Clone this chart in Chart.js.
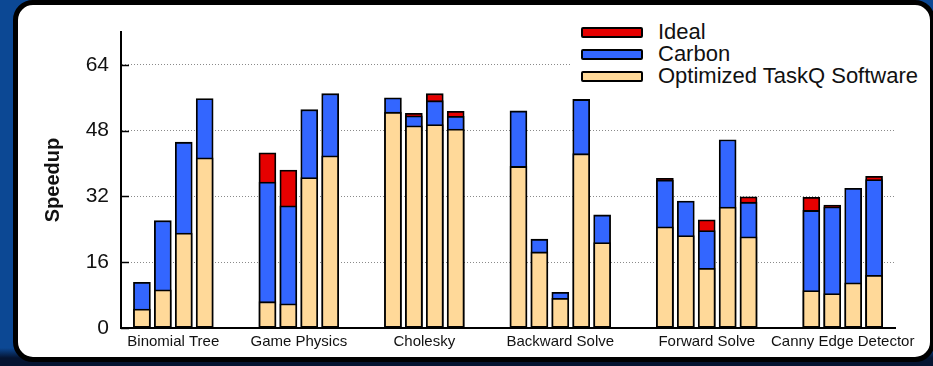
<!DOCTYPE html>
<html>
<head>
<meta charset="utf-8">
<script src="https://cdn.jsdelivr.net/npm/chart.js@4.4.1/dist/chart.umd.min.js"></script>
<style>
  html, body { margin: 0; padding: 0; }
  body {
    width: 933px;
    height: 366px;
    overflow: hidden;
    position: relative;
    background: linear-gradient(to bottom, #0c4894 0, #0c4894 348px, #051431 358px);
    font-family: "Liberation Sans", Arial, sans-serif;
  }
  #panel {
    position: absolute;
    left: 13px;
    top: 0;
    width: 922px;
    height: 362px;
    box-sizing: border-box;
    border: 5px solid #000;
    border-radius: 20px;
    background: #fff;
  }
  #speedup-chart { position: absolute; left: 0; top: 0; }
  #legend {
    position: absolute;
    left: 571px;
    top: 19px;
    background: #fff;
    padding: 2px 4px 2px 10px;
  }
  #legend .item {
    display: flex;
    align-items: center;
    height: 22px;
    font-size: 22px;
    color: #111;
    white-space: nowrap;
  }
  #legend .swatch {
    width: 58px;
    height: 7px;
    border: 2px solid #000;
    border-radius: 2px;
    margin-right: 15px;
  }
</style>
</head>
<body>
<div id="panel"></div>
<canvas id="speedup-chart" width="933" height="366"></canvas>
<div id="legend"></div>

<script>
    'use strict';

    // Benchmarks and how many core counts each one was run at
    var groups = ['Binomial Tree', 'Game Physics', 'Cholesky', 'Backward Solve', 'Forward Solve', 'Canny Edge Detector'];
    var barsPerGroup = [4, 4, 4, 5, 5, 4];
    var yTicks = [0, 16, 32, 48, 64];

    // Speedup per bar, left to right
    var software = [4.6, 9.3, 23.1, 41.4,
                    6.4, 5.9, 36.6, 41.9,
                    52.5, 49.2, 49.5, 48.4,
                    39.3, 18.5, 7.2, 42.4, 20.8,
                    24.6, 22.5, 14.5, 29.4, 22.2,
                    9.1, 8.4, 11.0, 12.8];
    var carbon = [11.1, 26.1, 45.2, 55.8,
                  35.5, 29.7, 53.1, 57.0,
                  56.0, 51.6, 55.3, 51.5,
                  52.8, 21.6, 8.7, 55.6, 27.5,
                  36.0, 30.9, 23.7, 45.8, 30.6,
                  28.6, 29.5, 34.0, 36.1];
    var ideal = [null, null, null, null,
                 42.6, 38.4, null, null,
                 null, 52.2, 57.0, 52.7,
                 null, null, null, null, null,
                 36.4, null, 26.3, null, 31.9,
                 31.8, 29.9, null, 36.9];

    // Bar slots along x, with two empty slots between benchmarks
    var GAP = 2;
    var slots = [];
    var centers = [];
    var pos = 0;
    barsPerGroup.forEach(function(n) {
        centers.push(pos + (n - 1) / 2);
        for (var i = 0; i < n; i++) slots.push(pos + i);
        pos += n + GAP;
    });
    var lastSlot = slots[slots.length - 1];

    function toPoints(values) {
        return values.map(function(v, i) { return { x: slots[i], y: v }; });
    }

    var font = '"Liberation Sans", Arial, sans-serif';

    // Short tick marks pointing into the plot on the y axis
    var innerTicks = {
        id: 'innerTicks',
        afterDatasetsDraw: function(chart) {
            var ctx = chart.ctx;
            var y = chart.scales.y;
            var left = chart.chartArea.left;
            ctx.save();
            ctx.strokeStyle = '#000';
            ctx.lineWidth = 1.5;
            yTicks.forEach(function(v) {
                var py = Math.round(y.getPixelForValue(v)) + 0.5;
                ctx.beginPath();
                ctx.moveTo(left, py);
                ctx.lineTo(left + 8, py);
                ctx.stroke();
            });
            ctx.restore();
        }
    };

    var bar = {
        borderColor: '#000',
        borderWidth: 1.8,
        borderSkipped: false,
        barThickness: 17
    };

    var chart = new Chart(document.getElementById('speedup-chart'), {
        type: 'bar',
        data: {
            datasets: [
                Object.assign({ label: 'Ideal', data: toPoints(ideal), backgroundColor: '#e60000', order: 3 }, bar),
                Object.assign({ label: 'Carbon', data: toPoints(carbon), backgroundColor: '#3366ff', order: 2 }, bar),
                Object.assign({ label: 'Optimized TaskQ Software', data: toPoints(software), backgroundColor: '#ffd999', order: 1 }, bar)
            ]
        },
        options: {
            responsive: false,
            animation: false,
            layout: { padding: { left: 0, top: 32, right: 38, bottom: 0 } },
            plugins: {
                legend: { display: false },
                tooltip: { enabled: false }
            },
            scales: {
                x: {
                    type: 'linear',
                    stacked: true,
                    offset: false,
                    min: -1,
                    max: lastSlot + 1,
                    grid: { display: false, drawTicks: false, offset: false },
                    border: { display: true, color: '#000', width: 2 },
                    afterBuildTicks: function(scale) {
                        scale.ticks = centers.map(function(v) { return { value: v }; });
                    },
                    afterFit: function(scale) { scale.height = 38; },
                    ticks: {
                        autoSkip: false,
                        maxRotation: 0,
                        padding: 5,
                        color: '#111',
                        font: { family: font, size: 15 },
                        callback: function(value, index) { return groups[index]; }
                    }
                },
                y: {
                    stacked: false,
                    min: 0,
                    max: 72,
                    afterBuildTicks: function(scale) {
                        scale.ticks = yTicks.map(function(v) { return { value: v }; });
                    },
                    afterFit: function(scale) { scale.width = 121; },
                    grid: {
                        drawTicks: false,
                        lineWidth: 1,
                        color: function(c) { return c.tick && c.tick.value === 0 ? 'rgba(0,0,0,0)' : '#8a8a8a'; }
                    },
                    border: { display: true, color: '#000', width: 2, dash: [1, 2] },
                    ticks: {
                        padding: 12,
                        color: '#111',
                        font: { family: font, size: 21 }
                    },
                    title: {
                        display: true,
                        text: 'Speedup',
                        color: '#111',
                        padding: { top: 41, bottom: 0 },
                        font: { family: font, size: 20, weight: 'bold' }
                    }
                }
            }
        },
        plugins: [innerTicks]
    });

    // Legend in the top right corner, built from the datasets
    var legend = document.getElementById('legend');
    chart.data.datasets.forEach(function(ds) {
        var item = document.createElement('div');
        item.className = 'item';
        var swatch = document.createElement('span');
        swatch.className = 'swatch';
        swatch.style.background = ds.backgroundColor;
        item.appendChild(swatch);
        item.appendChild(document.createTextNode(ds.label));
        legend.appendChild(item);
    });
</script>
</body>
</html>
